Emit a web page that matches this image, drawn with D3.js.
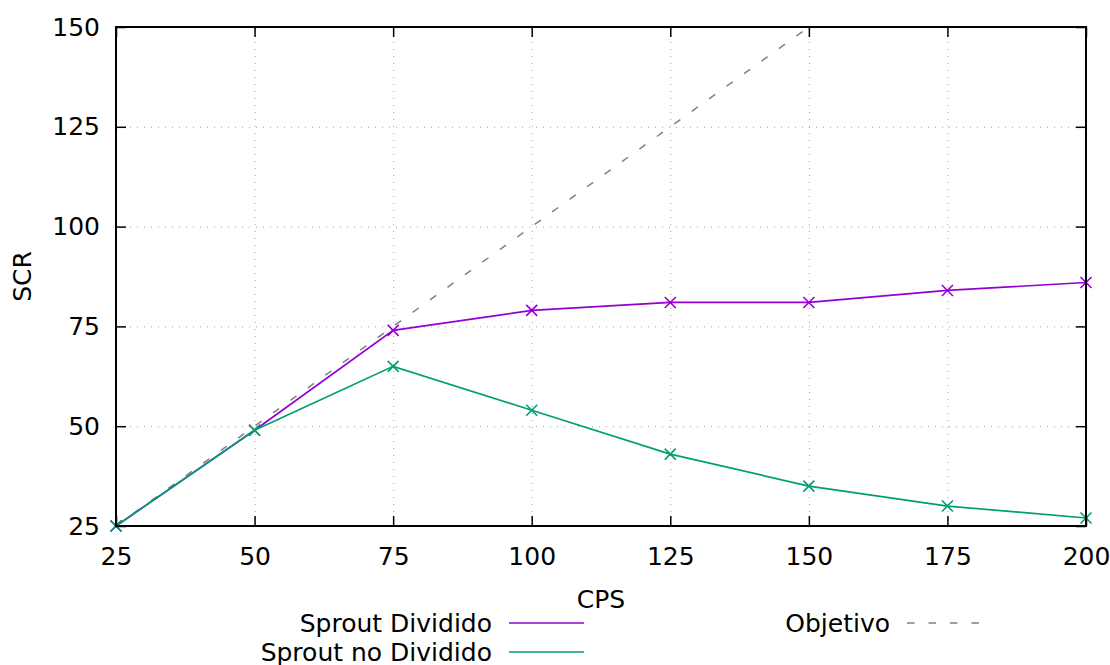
<!DOCTYPE html>
<html>
<head>
<meta charset="utf-8">
<script src="https://cdn.jsdelivr.net/npm/d3@7"></script>
<style>
  body { margin: 0; background: #fff; }
  svg { font-family: "DejaVu Sans", sans-serif; }
</style>
</head>
<body>
<svg id="chart"></svg>
<script>
const width = 1110;
const height = 665;

// datos
const cps = [25, 50, 75, 100, 125, 150, 175, 200];
const sproutDividido = [25, 49, 74, 79, 81, 81, 84, 86];
const sproutNoDividido = [25, 49, 65, 54, 43, 35, 30, 27];
const objetivo = [25, 150];
const xTicks = [25, 50, 75, 100, 125, 150, 175, 200];
const yTicks = [25, 50, 75, 100, 125, 150];

const series = [
    { name: 'Sprout Dividido', values: sproutDividido, color: '#9400d3' },
    { name: 'Sprout no Dividido', values: sproutNoDividido, color: '#009e73' }
];

const margin = { left: 116, right: 24, top: 27, bottom: 139 };
const fontSize = 25;

const svg = d3.select('#chart')
    .attr('width', width)
    .attr('height', height);

const x = d3.scaleLinear()
    .domain([25, 200])
    .range([margin.left, width - margin.right]);

const y = d3.scaleLinear()
    .domain([25, 150])
    .range([height - margin.bottom, margin.top]);

const plotW = x.range()[1] - x.range()[0];
const plotH = y.range()[0] - y.range()[1];

// rejilla punteada (solo ticks interiores)
const grid = svg.append('g').attr('id', 'grid');
grid.append('g')
    .attr('transform', `translate(0,${y(25)})`)
    .call(d3.axisBottom(x).tickValues(xTicks.slice(1, -1)).tickSize(-plotH).tickFormat(''))
    .call(g => g.select('.domain').remove())
    .selectAll('line')
    .attr('stroke', '#a0a0a0')
    .attr('stroke-dasharray', '1,6');
grid.append('g')
    .attr('transform', `translate(${x(25)},0)`)
    .call(d3.axisLeft(y).tickValues(yTicks.slice(1, -1)).tickSize(-plotW).tickFormat(''))
    .call(g => g.select('.domain').remove())
    .selectAll('line')
    .attr('stroke', '#a0a0a0')
    .attr('stroke-dasharray', '1,6');

// línea objetivo
const line = d3.line()
    .x(d => x(d[0]))
    .y(d => y(d[1]));

svg.append('path')
    .datum(objetivo.map(v => [v, v]))
    .attr('d', line)
    .attr('fill', 'none')
    .attr('stroke', '#808080')
    .attr('stroke-width', 1.5)
    .attr('stroke-dasharray', '7.5,14');

// series
series.forEach(s => {
    const pts = cps.map((c, i) => [c, s.values[i]]);
    svg.append('path')
        .datum(pts)
        .attr('d', line)
        .attr('fill', 'none')
        .attr('stroke', s.color)
        .attr('stroke-width', 1.7);
    svg.append('g')
        .selectAll('path')
        .data(pts)
        .enter().append('path')
        .attr('d', d => {
            const cx = x(d[0]), cy = y(d[1]), r = 5.5;
            return `M${cx - r},${cy - r}L${cx + r},${cy + r}M${cx - r},${cy + r}L${cx + r},${cy - r}`;
        })
        .attr('stroke', s.color)
        .attr('stroke-width', 1.6);
});

// ejes con ticks hacia dentro
const axisStyle = g => {
    g.select('.domain').remove();
    g.selectAll('line').attr('stroke', '#000').attr('stroke-width', 1.5);
    g.selectAll('text').attr('font-size', fontSize).attr('font-family', '"DejaVu Sans", sans-serif').attr('fill', '#000');
};

svg.append('g')
    .attr('transform', `translate(0,${y(25)})`)
    .call(d3.axisBottom(x).tickValues(xTicks).tickSize(-10).tickPadding(21))
    .call(axisStyle);
svg.append('g')
    .attr('transform', `translate(${x(25)},0)`)
    .call(d3.axisLeft(y).tickValues(yTicks).tickSize(-10).tickPadding(16))
    .call(axisStyle);
svg.append('g')
    .attr('transform', `translate(0,${y(150)})`)
    .call(d3.axisTop(x).tickValues(xTicks).tickSize(-10).tickFormat(''))
    .call(axisStyle);
svg.append('g')
    .attr('transform', `translate(${x(200)},0)`)
    .call(d3.axisRight(y).tickValues(yTicks).tickSize(-10).tickFormat(''))
    .call(axisStyle);

// borde
svg.append('rect')
    .attr('x', x(25))
    .attr('y', y(150))
    .attr('width', plotW)
    .attr('height', plotH)
    .attr('fill', 'none')
    .attr('stroke', '#000')
    .attr('stroke-width', 2);

// títulos de ejes
svg.append('text')
    .attr('x', (x(25) + x(200)) / 2)
    .attr('y', 608)
    .attr('text-anchor', 'middle')
    .attr('font-size', fontSize)
    .text('CPS');

svg.append('text')
    .attr('transform', `translate(31,${(y(25) + y(150)) / 2}) rotate(-90)`)
    .attr('text-anchor', 'middle')
    .attr('font-size', fontSize)
    .text('SCR');

// leyenda
const legendItems = [
    { name: series[0].name, color: series[0].color, dash: null, tx: 492, ty: 623 },
    { name: series[1].name, color: series[1].color, dash: null, tx: 492, ty: 652 },
    { name: 'Objetivo', color: '#808080', dash: '7.5,14', tx: 890, ty: 623 }
];

const legend = svg.append('g').attr('id', 'legend');
const item = legend.selectAll('g')
    .data(legendItems)
    .enter().append('g');
item.append('text')
    .attr('x', d => d.tx)
    .attr('y', d => d.ty)
    .attr('dy', '0.35em')
    .attr('text-anchor', 'end')
    .attr('font-size', fontSize)
    .text(d => d.name);
item.append('line')
    .attr('x1', d => d.tx + 17)
    .attr('x2', d => d.tx + 92)
    .attr('y1', d => d.ty)
    .attr('y2', d => d.ty)
    .attr('stroke', d => d.color)
    .attr('stroke-width', d => d.dash ? 1.5 : 1.7)
    .attr('stroke-dasharray', d => d.dash);
</script>
</body>
</html>
